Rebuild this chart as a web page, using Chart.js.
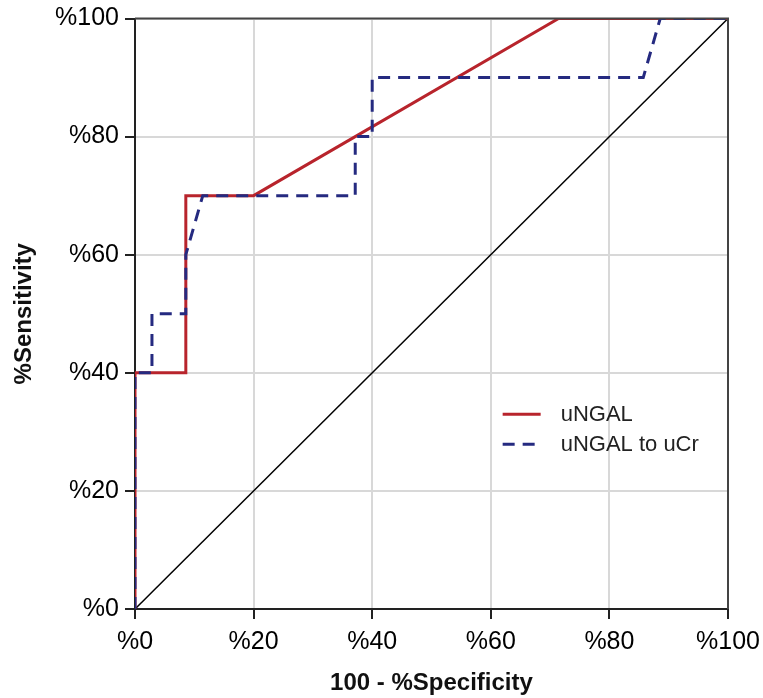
<!DOCTYPE html>
<html lang="en">
<head>
  <meta charset="UTF-8">
  <title>ROC curve</title>
  <script src="https://cdn.jsdelivr.net/npm/chart.js"></script>
  <style>
    body { margin: 0; background: #fff; }
    #wrap { width: 763px; height: 698px; }
  </style>
</head>
<body>
  <div id="wrap"><canvas id="roc"></canvas></div>
  <script>
    // 100 - specificity (x) and sensitivity (y), in %
    const ngalX = [0, 0, 8.57, 8.57, 20, 71.43, 100];
    const ngalY = [0, 40, 40, 70, 70, 100, 100];
    const ratioX = [0, 0, 2.86, 2.86, 8.57, 8.57, 11.43, 37.14, 37.14, 40, 40, 85.71, 88.57, 100];
    const ratioY = [0, 40, 40, 50, 50, 60, 70, 70, 80, 80, 90, 90, 100, 100];
    const refX = [0, 100];
    const refY = [0, 100];
    const tickVals = [0, 20, 40, 60, 80, 100];
    const seriesNames = ['uNGAL', 'uNGAL to uCr'];

    const RED = '#b8242c';
    const NAVY = '#252a80';
    const FONT = '"Liberation Sans", Arial, sans-serif';

    const pts = (xs, ys) => xs.map((x, i) => ({ x: x, y: ys[i] }));

    // frame on top/right + legend inside plot
    const extras = {
      id: 'extras',
      afterDatasetsDraw(chart) {
        const { ctx, chartArea: a } = chart;
        ctx.save();
        ctx.strokeStyle = '#444';
        ctx.lineWidth = 2;
        ctx.beginPath();
        ctx.moveTo(a.left, a.top);
        ctx.lineTo(a.right, a.top);
        ctx.lineTo(a.right, a.bottom);
        ctx.stroke();

        const lx = a.left + 0.62 * (a.right - a.left);
        const ly = a.top + 0.67 * (a.bottom - a.top);
        const styles = [
          { color: RED, dash: [] },
          { color: NAVY, dash: [12, 8] }
        ];
        ctx.font = '22px ' + FONT;
        ctx.textBaseline = 'middle';
        seriesNames.forEach((name, i) => {
          const y = ly + i * 30;
          ctx.strokeStyle = styles[i].color;
          ctx.lineWidth = 3;
          ctx.setLineDash(styles[i].dash);
          ctx.beginPath();
          ctx.moveTo(lx, y);
          ctx.lineTo(lx + 38, y);
          ctx.stroke();
          ctx.setLineDash([]);
          ctx.fillStyle = '#222';
          ctx.fillText(name, lx + 58, y + 1);
        });
        ctx.restore();
      }
    };

    new Chart(document.getElementById('roc'), {
      type: 'scatter',
      data: {
        datasets: [
          {
            label: seriesNames[1],
            data: pts(ratioX, ratioY),
            showLine: true,
            borderColor: NAVY,
            borderWidth: 3,
            borderDash: [12, 8],
            pointRadius: 0
          },
          {
            label: seriesNames[0],
            data: pts(ngalX, ngalY),
            showLine: true,
            borderColor: RED,
            borderWidth: 3,
            pointRadius: 0
          },
          {
            label: 'reference',
            data: pts(refX, refY),
            showLine: true,
            borderColor: '#000',
            borderWidth: 1.5,
            pointRadius: 0
          }
        ]
      },
      options: {
        responsive: true,
        maintainAspectRatio: false,
        animation: false,
        layout: { padding: { top: 17, right: 35, left: 0, bottom: 0 } },
        plugins: { legend: { display: false }, tooltip: { enabled: false } },
        scales: {
          x: {
            type: 'linear',
            min: 0,
            max: 100,
            afterBuildTicks: s => { s.ticks = tickVals.map(v => ({ value: v })); },
            afterFit: s => { s.height = 89; s.paddingRight = 0; },
            ticks: {
              padding: 11,
              color: '#000',
              font: { family: FONT, size: 25, lineHeight: 1.0 },
              callback: v => '%' + v
            },
            grid: { color: '#d8d8d8', lineWidth: 2, tickColor: '#222', tickLength: 10 },
            border: { color: '#222', width: 2 },
            title: {
              display: true,
              text: '100 - %Specificity',
              color: '#111',
              font: { family: FONT, size: 24, weight: 'bold' },
              padding: { top: 6, bottom: 0 }
            }
          },
          y: {
            type: 'linear',
            min: 0,
            max: 100,
            afterBuildTicks: s => { s.ticks = tickVals.map(v => ({ value: v })); },
            afterFit: s => { s.width = 135; },
            ticks: {
              padding: 6,
              color: '#000',
              font: { family: FONT, size: 25, lineHeight: 1.0 },
              callback: v => '%' + v
            },
            grid: { color: '#d8d8d8', lineWidth: 2, tickColor: '#222', tickLength: 10 },
            border: { color: '#222', width: 2 },
            title: {
              display: true,
              text: '%Sensitivity',
              color: '#111',
              font: { family: FONT, size: 24, weight: 'bold' },
              padding: { top: 10, bottom: 0 }
            }
          }
        }
      },
      plugins: [extras]
    });
  </script>
</body>
</html>
